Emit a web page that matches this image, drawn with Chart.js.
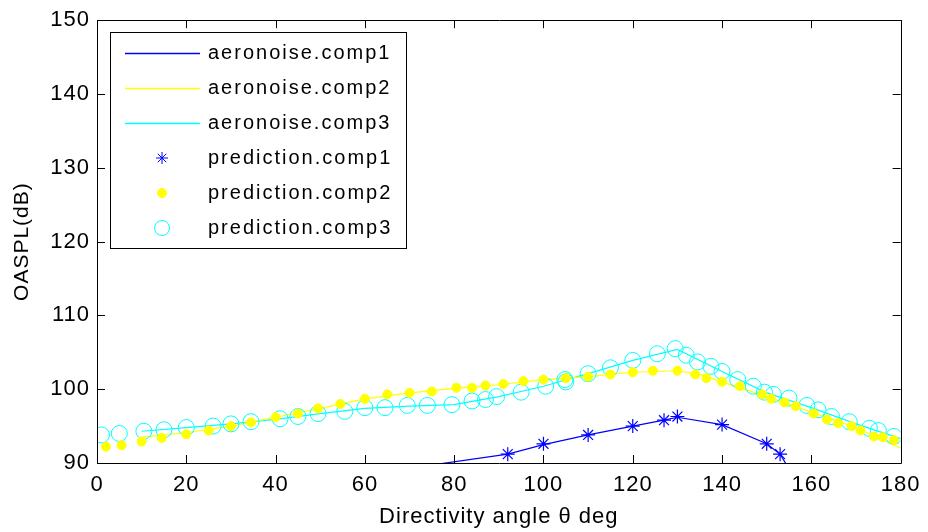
<!DOCTYPE html>
<html>
<head>
<meta charset="utf-8">
<script src="https://cdn.jsdelivr.net/npm/chart.js@4/dist/chart.umd.min.js"></script>
<style>
  html, body { margin: 0; padding: 0; background: #ffffff; }
  #wrap { width: 928px; height: 532px; position: relative; }
</style>
</head>
<body>
<div id="wrap"><canvas id="c" width="928" height="532"></canvas></div>
<script>
// ---- data ----
const xTicks = [0, 20, 40, 60, 80, 100, 120, 140, 160, 180];
const yTicks = [90, 100, 110, 120, 130, 140, 150];

const labels = ['aeronoise.comp1', 'aeronoise.comp2', 'aeronoise.comp3',
                'prediction.comp1', 'prediction.comp2', 'prediction.comp3'];

const aero1X = [70, 92, 100, 110, 120, 127, 130, 140, 150, 153, 156];
const aero1Y = [89.3, 91.2, 92.5, 93.8, 95.0, 95.8, 96.2, 95.2, 92.6, 91.2, 88.2];

const aero2X = [10, 20, 30, 40, 50, 60, 70, 80, 90, 100, 110, 120, 130, 135, 140, 150, 160, 170, 180];
const aero2Y = [93.5, 94.1, 95.0, 96.2, 97.4, 98.7, 99.5, 100.1, 100.6, 101.3, 101.7, 102.3, 102.5, 102.0, 101.0, 99.0, 96.9, 94.8, 92.0];

const aero3X = [10, 20, 30, 40, 50, 60, 70, 80, 90, 100, 110, 120, 130, 140, 150, 160, 170, 180];
const aero3Y = [94.3, 94.8, 95.3, 95.9, 96.7, 97.4, 97.7, 97.9, 99.0, 100.4, 102.1, 103.9, 105.4, 102.4, 99.5, 97.5, 95.3, 93.3];

const pred1X = [92, 100, 110, 120, 127, 130, 140, 150, 153];
const pred1Y = [91.2, 92.6, 93.8, 95.0, 95.8, 96.3, 95.2, 92.6, 91.2];

const pred2X = [2, 5.5, 10, 14.5, 20, 25, 30, 34.5, 40, 45, 49.5, 54.5, 60, 65, 70, 75, 80.5, 84, 87, 91, 95.5, 100, 105, 110, 115, 120, 124.5, 130, 134, 136.5, 140, 144, 149, 151, 154, 156.5, 160.5, 163.5, 166, 169, 171, 174, 176, 178.5];
const pred2Y = [92.2, 92.4, 92.9, 93.4, 93.9, 94.4, 95.0, 95.5, 96.2, 96.7, 97.4, 98.0, 98.7, 99.3, 99.5, 99.7, 100.2, 100.2, 100.5, 100.7, 101.1, 101.3, 101.5, 101.7, 102.0, 102.3, 102.5, 102.5, 102.0, 101.5, 101.0, 100.4, 99.3, 98.7, 98.2, 97.7, 96.7, 95.9, 95.4, 95.0, 94.4, 93.6, 93.5, 93.1];

const pred3X = [1, 5, 10.5, 15, 20, 26, 30, 34.5, 41, 45, 49.5, 55.5, 60, 64.5, 69.5, 74, 79.5, 84, 87, 89.5, 95, 100.5, 104.8, 105, 110, 115, 120, 125.5, 129.5, 132, 134.5, 137.5, 140, 143.5, 147, 149.5, 151.5, 155, 159, 161.5, 164.5, 168.5, 173, 175, 178.5];
const pred3Y = [93.8, 94.0, 94.3, 94.5, 94.8, 95.0, 95.3, 95.6, 96.0, 96.3, 96.7, 97.0, 97.5, 97.5, 97.8, 97.8, 97.9, 98.4, 98.6, 99.0, 99.6, 100.4, 101.3, 101.0, 102.1, 102.9, 103.9, 104.8, 105.5, 104.6, 103.7, 103.1, 102.4, 101.3, 100.4, 99.6, 99.3, 98.8, 97.8, 97.2, 96.3, 95.6, 94.7, 94.4, 93.6];

const BLUE = '#0000ff', YELLOW = '#ffff00', CYAN = '#00ffff';
const FONT = "'Liberation Sans', Arial, sans-serif";

function pts(xs, ys) { return xs.map((x, i) => ({ x: x, y: ys[i] })); }

const lineDs = (label, xs, ys, color) => ({
  label, data: pts(xs, ys), showLine: true, borderColor: color, borderWidth: 1.2,
  pointRadius: 0, pointHoverRadius: 0, fill: false, order: 2, tension: 0
});

const datasets = [
  lineDs(labels[0], aero1X, aero1Y, BLUE),
  lineDs(labels[1], aero2X, aero2Y, YELLOW),
  lineDs(labels[2], aero3X, aero3Y, CYAN),
  { label: labels[3], data: pts(pred1X, pred1Y), showLine: false, pointStyle: 'star',
    pointRadius: 7, borderColor: BLUE, backgroundColor: BLUE, pointBorderWidth: 1.2, order: 0 },
  { label: labels[4], data: pts(pred2X, pred2Y), showLine: false, pointStyle: 'circle',
    pointRadius: 4.5, borderColor: YELLOW, backgroundColor: YELLOW, pointBorderWidth: 1, order: 1 },
  { label: labels[5], data: pts(pred3X, pred3Y), showLine: false, pointStyle: 'circle',
    pointRadius: 8, borderColor: CYAN, backgroundColor: 'rgba(0,0,0,0)', pointBorderWidth: 1, order: 1 }
];

// legend entry styles (kind, colour) in legend order
const legendKinds = ['line', 'line', 'line', 'star', 'dot', 'ring'];
const legendColors = [BLUE, YELLOW, CYAN, BLUE, YELLOW, CYAN];

// wider text spacing like the reference rendering
const spacingPlugin = {
  id: 'spacing',
  beforeDraw(chart) { chart.ctx.letterSpacing = '1px'; }
};

// frame + inward ticks on all four sides
const framePlugin = {
  id: 'frame',
  afterDraw(chart) {
    const { ctx, chartArea: a, scales } = chart;
    ctx.save();
    ctx.strokeStyle = '#000';
    ctx.lineWidth = 1;
    ctx.beginPath();
    ctx.rect(Math.round(a.left) + 0.5, Math.round(a.top) + 0.5,
             Math.round(a.right - a.left), Math.round(a.bottom - a.top));
    ctx.stroke();
    const L = 8;
    ctx.beginPath();
    scales.x.ticks.forEach(t => {
      const px = Math.round(scales.x.getPixelForValue(t.value)) + 0.5;
      ctx.moveTo(px, a.bottom); ctx.lineTo(px, a.bottom - L);
      ctx.moveTo(px, a.top); ctx.lineTo(px, a.top + L);
    });
    scales.y.ticks.forEach(t => {
      const py = Math.round(scales.y.getPixelForValue(t.value)) + 0.5;
      ctx.moveTo(a.left, py); ctx.lineTo(a.left + L, py);
      ctx.moveTo(a.right, py); ctx.lineTo(a.right - L, py);
    });
    ctx.stroke();
    ctx.restore();
  }
};

// legend box inside the plot (MATLAB style)
const legendPlugin = {
  id: 'mlegend',
  afterDraw(chart) {
    const ctx = chart.ctx;
    const bx = 110, by = 32, bw = 296, bh = 216;
    ctx.save();
    ctx.fillStyle = '#fff';
    ctx.fillRect(bx, by, bw, bh);
    ctx.strokeStyle = '#000';
    ctx.lineWidth = 1;
    ctx.strokeRect(bx + 0.5, by + 0.5, bw, bh);
    ctx.font = "20px " + FONT;
    ctx.letterSpacing = '2px';
    ctx.textBaseline = 'middle';
    ctx.textAlign = 'left';
    for (let i = 0; i < labels.length; i++) {
      const y = 53 + i * 35;
      const kind = legendKinds[i], col = legendColors[i];
      const cx = 162;
      ctx.strokeStyle = col;
      ctx.fillStyle = col;
      ctx.lineWidth = 1;
      ctx.beginPath();
      if (kind === 'line') {
        ctx.lineWidth = 1.6;
        ctx.moveTo(125, y + 0.5); ctx.lineTo(200, y + 0.5);
        ctx.stroke();
      } else if (kind === 'star') {
        const r = 6;
        for (let k = 0; k < 4; k++) {
          const ang = k * Math.PI / 4;
          ctx.moveTo(cx - r * Math.cos(ang), y - r * Math.sin(ang));
          ctx.lineTo(cx + r * Math.cos(ang), y + r * Math.sin(ang));
        }
        ctx.stroke();
      } else if (kind === 'dot') {
        ctx.arc(cx, y, 4.5, 0, Math.PI * 2);
        ctx.fill(); ctx.stroke();
      } else {
        ctx.arc(cx, y, 7.5, 0, Math.PI * 2);
        ctx.stroke();
      }
      ctx.fillStyle = '#000';
      ctx.fillText(labels[i], 208, y);
    }
    ctx.restore();
  }
};

new Chart(document.getElementById('c'), {
  type: 'scatter',
  data: { datasets },
  plugins: [spacingPlugin, framePlugin, legendPlugin],
  options: {
    responsive: false,
    animation: false,
    devicePixelRatio: 1,
    layout: { autoPadding: false, padding: { top: 19, right: 24, left: 0, bottom: 0 } },
    plugins: { legend: { display: false }, tooltip: { enabled: false } },
    scales: {
      x: {
        type: 'linear', min: 0, max: 180,
        afterBuildTicks(s) { s.ticks = xTicks.map(v => ({ value: v })); },
        afterFit(s) { s.height = 69; },
        grid: { display: false, drawTicks: false },
        border: { display: false },
        ticks: { color: '#000', padding: 9, font: { family: FONT, size: 22 }, maxRotation: 0, autoSkip: false },
        title: { display: true, text: 'Directivity angle θ deg', color: '#000',
                 font: { family: FONT, size: 22 }, padding: { top: 0, bottom: 2 } }
      },
      y: {
        type: 'linear', min: 90, max: 150,
        afterBuildTicks(s) { s.ticks = yTicks.map(v => ({ value: v })); },
        afterFit(s) { s.width = 97; },
        grid: { display: false, drawTicks: false },
        border: { display: false },
        ticks: { color: '#000', padding: 7, font: { family: FONT, size: 22 }, autoSkip: false },
        title: { display: true, text: 'OASPL(dB)', color: '#000',
                 font: { family: FONT, size: 21 }, padding: { top: 10, bottom: 0 } }
      }
    }
  }
});
</script>
</body>
</html>
